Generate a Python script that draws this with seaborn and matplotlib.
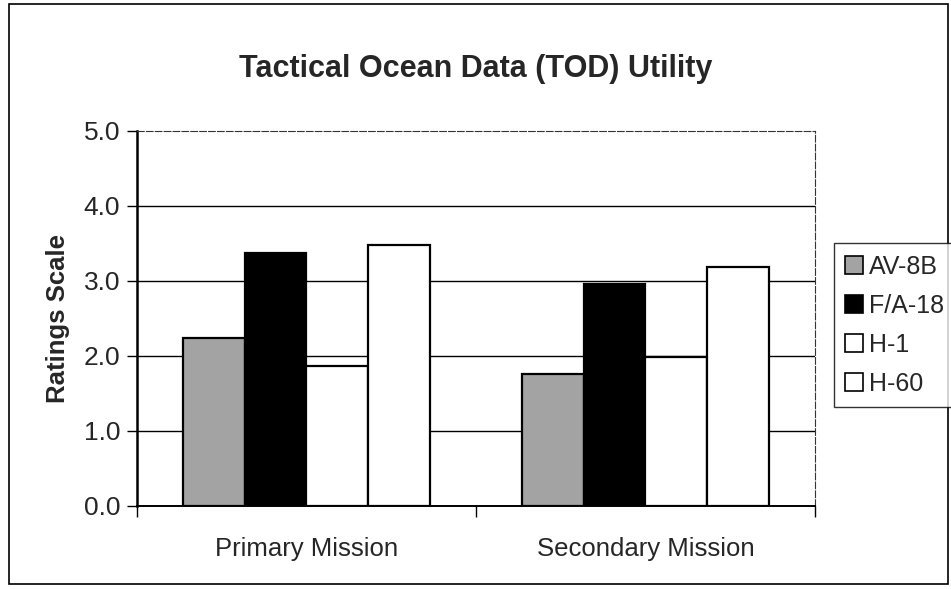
import pandas as pd
import numpy as np
import seaborn as sns
import matplotlib
matplotlib.use('Agg')
import matplotlib.pyplot as plt
from matplotlib.patches import Rectangle

sns.set_theme(style='white')
plt.rcParams['font.family'] = ['Liberation Sans', 'DejaVu Sans']

# values
missions = ['Primary Mission', 'Secondary Mission']
aircraft = ['AV-8B', 'F/A-18', 'H-1', 'H-60']
av8b = [2.24, 1.76]
fa18 = [3.37, 2.96]
h1 = [1.86, 1.98]
h60 = [3.48, 3.18]
yticks = [0.0, 1.0, 2.0, 3.0, 4.0, 5.0]

df = pd.DataFrame({
    'Mission': missions * 4,
    'Aircraft': np.repeat(aircraft, 2),
    'Rating': av8b + fa18 + h1 + h60,
})

colors = {'AV-8B': '#a3a3a3', 'F/A-18': '#000000', 'H-1': '#ffffff', 'H-60': '#ffffff'}

fig = plt.figure(figsize=(9.51, 5.89), dpi=100)
ax = fig.add_axes([0.144, 0.141, 0.713, 0.637])

sns.barplot(data=df, x='Mission', y='Rating', hue='Aircraft', hue_order=aircraft,
            palette=colors, width=0.727, edgecolor='black', linewidth=1.6,
            saturation=1, ax=ax, zorder=3)

ax.set_ylim(0, 5)
ax.set_xlim(-0.5, 1.5)
ax.set_yticks(yticks)
ax.set_yticklabels([f'{v:.1f}' for v in yticks], fontsize=19)
ax.set_xticks([-0.5, 0.5, 1.5], minor=False)
ax.set_xticklabels([])
ax.set_xticks([0, 1], minor=True)
ax.set_xticklabels(missions, minor=True, fontsize=18.5)
ax.tick_params(axis='x', which='major', direction='out', length=8, width=1, color='black', bottom=True)
ax.tick_params(axis='x', which='minor', length=0, pad=22)
ax.tick_params(axis='y', direction='out', length=7, width=1, color='black', left=True, pad=5)

for v in yticks[1:-1]:
    ax.axhline(v, color='black', linewidth=1.0, zorder=1)

ax.set_xlabel('')
ax.set_ylabel('Ratings Scale', fontsize=18.5, fontweight='bold', labelpad=10)

for side in ['top', 'right']:
    ax.spines[side].set_linestyle((0, (6, 2)))
    ax.spines[side].set_linewidth(0.8)
    ax.spines[side].set_color('#333333')
ax.spines['left'].set_linewidth(1.8)
ax.spines['left'].set_color('black')
ax.spines['bottom'].set_linewidth(1.4)
ax.spines['bottom'].set_color('black')

ax.set_title('Tactical Ocean Data (TOD) Utility', fontsize=22, fontweight='bold',
             pad=39)

handles, labels = ax.get_legend_handles_labels()
ax.get_legend().remove()
leg = fig.legend(handles, labels, loc='center left', bbox_to_anchor=(0.877, 0.448),
                 fontsize=18, frameon=True, fancybox=False, edgecolor='black',
                 handlelength=0.7, handleheight=0.7, handletextpad=0.25,
                 labelspacing=0.6, borderpad=0.45, borderaxespad=0)
leg.get_frame().set_linewidth(1.0)
for h in leg.legend_handles:
    h.set_linewidth(1.2)

fig.patches.append(Rectangle((0.009, 0.008), 0.988, 0.985, transform=fig.transFigure,
                             fill=False, edgecolor='black', linewidth=1.2))

fig.savefig('out.png', dpi=100, facecolor='white')
